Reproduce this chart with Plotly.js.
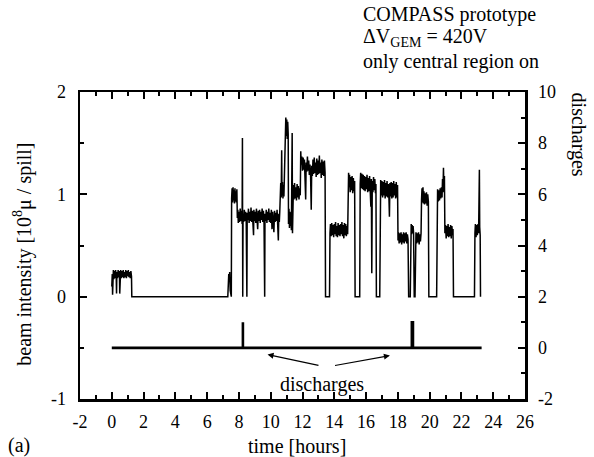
<!DOCTYPE html>
<html>
<head>
<meta charset="utf-8">
<script src="https://cdn.plot.ly/plotly-3.0.1.min.js"></script>
<style>html,body{margin:0;padding:0;background:#fff;}#chart{width:594px;height:457px;}</style>
</head>
<body>
<div id="chart"></div>
<script>
// beam intensity time series [hours], [10^8 mu / spill]
const beamTime = [
0.00,0.03,0.05,0.07,0.10,0.13,0.16,0.20,0.24,0.28,0.30,0.32,0.36,0.40,0.44,0.48,0.50,0.52,0.56,0.60,
0.64,0.68,0.72,0.76,0.80,0.84,0.88,0.92,0.96,1.00,1.04,1.08,1.12,1.16,1.20,1.24,1.26,
7.30,7.33,7.36,7.39,7.42,7.45,7.49,7.52,7.54,7.57,7.60,7.63,7.66,7.69,7.72,7.75,7.78,7.81,7.84,7.87,
7.90,7.93,7.96,8.00,8.04,8.08,8.12,8.16,8.20,8.22,8.24,8.26,8.30,8.34,8.38,8.42,8.46,8.50,8.52,8.56,
8.60,8.64,8.68,8.72,8.76,8.80,8.84,8.88,8.92,8.94,8.98,9.02,9.06,9.10,9.14,9.18,9.22,9.26,9.30,9.34,
9.38,9.42,9.46,9.50,9.54,9.58,9.62,9.64,9.68,9.72,9.76,9.80,9.84,9.88,9.92,9.96,10.00,10.04,10.08,10.12,
10.16,10.20,10.24,10.28,10.32,10.36,10.40,10.44,10.48,10.51,10.54,10.57,10.60,10.63,10.66,10.69,10.71,10.74,10.77,10.80,
10.83,10.86,10.89,10.92,10.95,10.98,11.01,11.04,11.07,11.10,11.12,11.15,11.18,11.21,11.24,11.27,11.30,11.33,11.35,11.37,
11.40,11.43,11.46,11.50,11.54,11.58,11.62,11.66,11.70,11.74,11.78,11.82,11.86,11.89,11.92,11.96,12.00,12.04,12.08,12.12,
12.16,12.20,12.23,12.27,12.31,12.35,12.39,12.43,12.47,12.51,12.55,12.58,12.62,12.66,12.70,12.74,12.78,12.82,12.86,12.90,
12.94,12.98,13.02,13.06,13.10,13.14,13.18,13.22,13.26,13.30,13.34,13.38,13.42,13.45,
13.70,13.73,13.76,13.80,13.84,13.88,13.92,13.96,14.00,14.04,14.08,14.12,14.16,14.20,14.24,14.28,14.32,14.36,14.40,14.44,
14.48,14.52,14.56,14.60,14.64,14.68,14.72,14.76,14.80,14.84,14.87,14.90,14.93,14.96,15.00,15.04,15.08,15.12,15.16,15.20,
15.24,15.28,15.31,15.60,15.63,15.66,15.70,15.74,15.78,15.82,15.86,15.90,15.94,15.98,16.02,16.06,16.10,16.14,16.18,16.22,
16.26,16.30,16.33,16.36,16.39,16.43,16.47,16.51,16.55,16.59,16.62,16.65,16.86,16.89,16.92,16.96,17.00,17.04,17.08,17.12,
17.16,17.20,17.24,17.28,17.32,17.36,17.40,17.44,17.47,17.50,17.54,17.58,17.62,17.66,17.70,17.74,17.78,17.82,17.86,17.90,
17.94,17.98,18.01,18.04,18.08,18.12,18.16,18.20,18.24,18.28,18.32,18.36,18.40,18.44,18.48,18.52,18.56,18.60,18.64,18.68,
18.78,18.81,18.84,18.87,18.90,18.93,18.96,18.99,19.03,19.08,19.11,19.14,19.18,19.22,19.26,19.30,19.34,19.38,19.42,19.46,
19.49,19.52,19.55,19.58,19.61,19.64,19.68,19.72,19.76,19.80,19.84,19.88,19.92,19.95,20.44,20.47,20.50,20.54,20.58,20.62,
20.66,20.70,20.74,20.78,20.81,20.84,20.87,20.90,20.93,20.96,21.00,21.04,21.08,21.12,21.16,21.20,21.24,21.28,21.32,21.36,
21.40,21.44,21.47,21.50,22.82,22.85,22.88,22.92,22.96,23.00,23.04,23.08,23.11,23.13,23.15,23.18,23.20
];
const beamIntensity = [
0.10,0.22,0.02,0.19,0.26,0.17,0.25,0.18,0.26,0.19,0.03,0.24,0.18,0.26,0.19,0.25,0.03,0.20,0.26,0.18,
0.25,0.19,0.26,0.18,0.24,0.19,0.26,0.18,0.25,0.20,0.26,0.19,0.24,0.18,0.25,0.20,0.00,
0.00,0.14,0.22,0.17,0.24,0.06,0.00,0.00,0.96,1.06,0.92,1.07,0.94,1.04,0.91,1.06,0.93,1.03,0.92,1.05,
0.77,0.85,0.72,0.83,0.73,0.86,0.74,0.84,0.71,1.55,0.00,0.81,0.73,0.85,0.74,0.83,0.72,0.00,0.82,0.75,
0.86,0.72,0.83,0.74,0.87,0.73,0.84,0.71,0.60,0.85,0.74,0.83,0.72,0.86,0.73,0.66,0.84,0.74,0.85,0.72,
0.83,0.75,0.86,0.73,0.84,0.71,0.00,0.81,0.74,0.85,0.72,0.83,0.75,0.86,0.73,0.82,0.72,0.85,0.66,0.83,
0.74,0.63,0.84,0.73,0.82,0.74,0.85,0.71,0.55,0.81,0.73,0.83,1.02,1.11,0.97,1.43,0.99,1.12,0.96,1.09,
0.98,1.13,1.30,1.62,1.75,1.57,1.73,1.54,1.71,1.59,0.71,0.86,0.67,0.83,0.69,0.81,0.65,1.10,1.60,0.62,
0.99,1.09,0.95,1.11,0.96,1.07,0.94,1.10,0.97,1.08,0.95,1.06,0.99,1.42,1.29,1.37,1.23,1.36,1.24,1.34,
1.21,0.95,1.31,1.22,1.37,1.23,1.33,1.19,1.29,1.17,0.85,1.28,1.18,1.34,1.20,1.36,1.21,1.31,1.17,1.35,
1.19,1.33,1.20,1.38,1.21,1.31,1.16,1.34,1.19,1.32,1.18,1.33,1.21,0.00,
0.00,0.62,0.71,0.59,0.72,0.60,0.70,0.58,0.71,0.61,0.73,0.59,0.69,0.58,0.72,0.60,0.70,0.59,0.71,0.61,
0.73,0.59,0.70,0.57,0.72,0.60,0.71,0.59,0.69,0.61,1.05,1.21,1.07,1.19,1.02,1.17,1.04,1.18,1.01,1.16,
1.03,1.13,0.00,0.00,1.10,1.21,1.06,1.20,1.05,1.19,1.04,1.18,1.03,1.17,1.05,1.19,1.02,1.16,1.03,1.18,
1.04,0.88,1.15,0.23,1.13,1.02,1.17,1.04,1.15,1.01,1.10,0.00,0.00,1.00,1.14,0.99,1.13,0.97,1.12,0.99,
1.14,0.96,1.11,0.98,1.13,0.97,1.10,0.96,0.78,1.11,0.98,1.12,0.96,1.11,0.97,1.13,0.99,1.10,0.96,1.12,
0.97,1.09,0.55,0.63,0.52,0.62,0.53,0.63,0.51,0.61,0.53,0.63,0.52,0.62,0.54,0.63,0.52,0.61,0.56,0.00,
0.00,0.66,0.71,0.61,0.70,0.62,0.69,0.62,0.00,0.00,0.57,0.63,0.52,0.62,0.53,0.63,0.51,0.61,0.54,0.62,
0.95,1.06,0.92,1.07,0.91,1.03,0.90,1.01,0.91,1.02,0.89,1.00,0.93,0.00,0.00,0.95,1.05,0.93,1.04,0.94,
1.06,0.96,1.07,0.97,1.15,1.02,1.26,1.05,1.18,0.62,0.70,0.57,0.69,0.59,0.71,0.58,0.68,0.59,0.70,0.57,
0.69,0.60,0.66,0.00,0.00,0.62,0.71,0.58,0.70,0.60,0.71,0.62,0.90,1.24,0.68,0.60,0.00
];
// discharges (right axis)
const dischargeTime = [0, 8.25, 8.25, 8.25, 18.88, 18.88, 18.95, 18.95, 23.27];
const dischargeCount = [0, 0, 1, 0, 0, 1, 1, 0, 0];

const xTickVals = [-2,0,2,4,6,8,10,12,14,16,18,20,22,24,26];
const xTickText = ['-2','0','2','4','6','8','10','12','14','16','18','20','22','24','26'];
const yTickVals = [-1,0,1,2];
const yTickText = ['-1','0','1','2'];
const y2TickVals = [-2,0,2,4,6,8,10];
const y2TickText = ['-2','0','2','4','6','8','10'];

const FONT = 'Liberation Serif, Times New Roman, serif';
const TXT = {family: FONT, size: 20, color: '#000'};

const traces = [
  {x: beamTime, y: beamIntensity, type: 'scatter', mode: 'lines',
   line: {color: '#000', width: 1.5}, yaxis: 'y', hoverinfo: 'skip'},
  {x: dischargeTime, y: dischargeCount, type: 'scatter', mode: 'lines',
   line: {color: '#000', width: 2.6}, yaxis: 'y2', hoverinfo: 'skip'}
];

const axisCommon = {
  showgrid: false, zeroline: false, showline: true, linecolor: '#000', linewidth: 2.5,
  ticks: 'inside', ticklen: 7, tickwidth: 2, tickcolor: '#000',
  tickfont: {family: FONT, size: 18, color: '#000'}
};

const layout = {
  width: 594, height: 457,
  margin: {l: 80, r: 69, t: 92, b: 58},
  paper_bgcolor: '#fff', plot_bgcolor: '#fff',
  showlegend: false,
  font: {family: FONT, size: 18, color: '#000'},
  xaxis: Object.assign({}, axisCommon, {
    range: [-2, 26], tickmode: 'array', tickvals: xTickVals, ticktext: xTickText,
    mirror: 'ticks', ticklabelstandoff: 5,
    minor: {dtick: 1, tick0: 0, ticks: 'inside', ticklen: 4, tickwidth: 2, tickcolor: '#000', showgrid: false}
  }),
  yaxis: Object.assign({}, axisCommon, {
    range: [-1, 2], tickmode: 'array', tickvals: yTickVals, ticktext: yTickText,
    ticklabelstandoff: 8,
    minor: {dtick: 0.5, tick0: 0, ticks: 'inside', ticklen: 4, tickwidth: 2, tickcolor: '#000', showgrid: false}
  }),
  yaxis2: Object.assign({}, axisCommon, {
    overlaying: 'y', side: 'right',
    range: [-2, 10], tickmode: 'array', tickvals: y2TickVals, ticktext: y2TickText,
    ticklabelstandoff: 7,
    minor: {dtick: 1, tick0: 0, ticks: 'inside', ticklen: 4, tickwidth: 2, tickcolor: '#000', showgrid: false}
  }),
  annotations: [
    {xref: 'paper', yref: 'paper', x: 0.631, y: 1.254, xanchor: 'left', yanchor: 'middle',
     showarrow: false, font: TXT, text: 'COMPASS prototype'},
    {xref: 'paper', yref: 'paper', x: 0.631, y: 1.176, xanchor: 'left', yanchor: 'middle',
     showarrow: false, font: TXT, text: 'ΔV<sub>GEM</sub> = 420V'},
    {xref: 'paper', yref: 'paper', x: 0.631, y: 1.098, xanchor: 'left', yanchor: 'middle',
     showarrow: false, font: TXT, text: 'only central region on'},
    {xref: 'paper', yref: 'paper', x: -0.128, y: 0.47, xanchor: 'center', yanchor: 'middle',
     textangle: -90, showarrow: false, font: TXT,
     text: 'beam intensity [10<sup>8</sup>μ / spill]'},
    {xref: 'paper', yref: 'paper', x: 1.12, y: 0.86, xanchor: 'center', yanchor: 'middle',
     textangle: 90, showarrow: false, font: TXT, text: 'discharges'},
    {xref: 'paper', yref: 'paper', x: 0.488, y: -0.153, xanchor: 'center', yanchor: 'middle',
     showarrow: false, font: TXT, text: 'time [hours]'},
    {xref: 'paper', yref: 'paper', x: -0.137, y: -0.15, xanchor: 'center', yanchor: 'middle',
     showarrow: false, font: TXT, text: '(a)'},
    {xref: 'x', yref: 'y', x: 13.2, y: -0.86, showarrow: false, font: TXT, text: 'discharges'},
    {xref: 'x', yref: 'y', x: 9.8, y: -0.565, axref: 'x', ayref: 'y', ax: 13.1, ay: -0.675,
     showarrow: true, arrowhead: 2, arrowsize: 1, arrowwidth: 1.2, arrowcolor: '#000', text: ''},
    {xref: 'x', yref: 'y', x: 17.5, y: -0.575, axref: 'x', ayref: 'y', ax: 13.95, ay: -0.675,
     showarrow: true, arrowhead: 2, arrowsize: 1, arrowwidth: 1.2, arrowcolor: '#000', text: ''}
  ]
};

Plotly.newPlot('chart', traces, layout, {staticPlot: true, displayModeBar: false});
</script>
</body>
</html>
